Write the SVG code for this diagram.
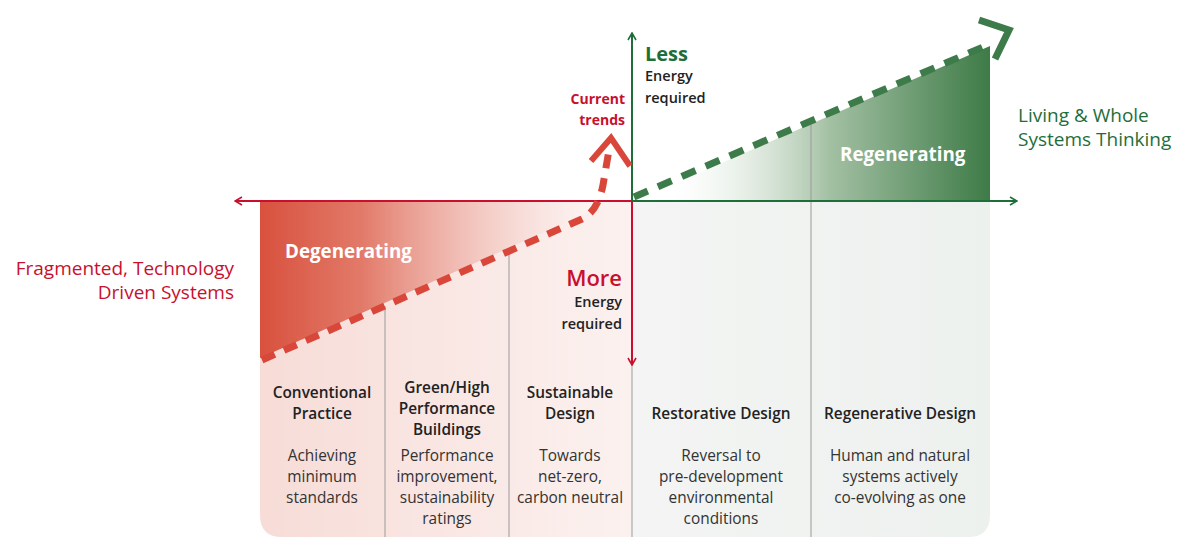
<svg xmlns="http://www.w3.org/2000/svg" width="1179" height="539" viewBox="0 0 1179 539">
<defs>
  <linearGradient id="gLeft" x1="0" y1="0" x2="1" y2="0">
    <stop offset="0" stop-color="#f7dcd7"/>
    <stop offset="1" stop-color="#fbf1ef"/>
  </linearGradient>
  <linearGradient id="gRight" x1="0" y1="0" x2="1" y2="0">
    <stop offset="0" stop-color="#f3f4f3"/>
    <stop offset="1" stop-color="#edf1ee"/>
  </linearGradient>
  <linearGradient id="gRed" x1="260" y1="0" x2="600" y2="0" gradientUnits="userSpaceOnUse">
    <stop offset="0" stop-color="#d8513e"/>
    <stop offset="0.3" stop-color="#e27a69"/>
    <stop offset="1" stop-color="#ffffff" stop-opacity="0.4"/>
  </linearGradient>
  <linearGradient id="gGreen" x1="670" y1="0" x2="990" y2="0" gradientUnits="userSpaceOnUse">
    <stop offset="0" stop-color="#ffffff" stop-opacity="0.2"/>
    <stop offset="0.5" stop-color="#a3c0a3"/>
    <stop offset="1" stop-color="#3e7b47"/>
  </linearGradient>
  <marker id="arrGreen" viewBox="0 0 10 10" refX="9" refY="5" markerWidth="10" markerHeight="10" markerUnits="userSpaceOnUse" orient="auto">
    <path d="M2,1 L9,5 L2,9" fill="none" stroke="#1e6e3a" stroke-width="1.6"/>
  </marker>
  <marker id="arrRed" viewBox="0 0 10 10" refX="9" refY="5" markerWidth="10" markerHeight="10" markerUnits="userSpaceOnUse" orient="auto">
    <path d="M2,1 L9,5 L2,9" fill="none" stroke="#c8102e" stroke-width="1.6"/>
  </marker>
</defs>
<style>
  text { font-family: "Open Sans", "Liberation Sans", sans-serif; }
  .t { font-size: 15.4px; fill: #222; text-anchor: middle; font-weight: 600; }
  .d { font-size: 15.4px; fill: #333; text-anchor: middle; }
  .div { stroke: #9a9a9a; stroke-width: 1; }
  .lab { font-size: 14.5px; fill: #222; font-weight: 600; }
  .side { font-size: 19px; }
</style>

<g id="panel">
  <path d="M260,201 H632 V537 H282 Q260,537 260,515 Z" fill="url(#gLeft)"/>
  <path d="M632,201 H990 V515 Q990,537 968,537 H632 Z" fill="url(#gRight)"/>
</g>

<g id="degenerating">
  <polygon points="260,201 602,201 588,213 260,358" fill="url(#gRed)"/>
  <text x="285" y="258" font-size="18.8" font-weight="700" fill="#ffffff">Degenerating</text>
</g>

<g id="regenerating">
  <polygon points="634,201 990,46 990,201" fill="url(#gGreen)"/>
  <text x="840" y="161" font-size="18.8" font-weight="700" fill="#ffffff">Regenerating</text>
</g>

<g id="dividers">
  <line class="div" x1="385" y1="306" x2="385" y2="537"/>
  <line class="div" x1="509" y1="252" x2="509" y2="537"/>
  <line class="div" x1="632" y1="365" x2="632" y2="537"/>
  <line class="div" x1="811" y1="125" x2="811" y2="537"/>
</g>

<g id="connectors">
  <line x1="632" y1="201" x2="235" y2="201" stroke="#c8102e" stroke-width="2" marker-end="url(#arrRed)"/>
  <line x1="632" y1="201" x2="1017" y2="201" stroke="#1e6e3a" stroke-width="2" marker-end="url(#arrGreen)"/>
  <line x1="632" y1="201" x2="632" y2="33" stroke="#1e6e3a" stroke-width="2" marker-end="url(#arrGreen)"/>
  <line x1="632" y1="201" x2="632" y2="365" stroke="#c8102e" stroke-width="2" marker-end="url(#arrRed)"/>
  <path d="M262,360 L582,219 Q598,211 603,185 L609,150" fill="none" stroke="#d9473a" stroke-width="7" stroke-dasharray="14,10"/>
  <path d="M591,161 L611,138 L630,166" fill="none" stroke="#d9473a" stroke-width="6"/>
  <line x1="634" y1="197" x2="990" y2="44" stroke="#3e7b4a" stroke-width="7" stroke-dasharray="15,11"/>
  <path d="M979,20 L1009,30 L995,59" fill="none" stroke="#3e7b4a" stroke-width="7"/>
</g>

<g id="labels">
  <text x="645" y="61" font-size="20" font-weight="700" fill="#1e6e3a">Less</text>
  <text class="lab" x="645" y="81">Energy</text>
  <text class="lab" x="645" y="103">required</text>
  <text x="625" y="104" font-size="14" font-weight="700" fill="#c8102e" text-anchor="end">Current</text>
  <text x="625" y="125" font-size="14" font-weight="700" fill="#c8102e" text-anchor="end">trends</text>
  <text x="622" y="286" font-size="22" font-weight="600" fill="#c8102e" text-anchor="end">More</text>
  <text class="lab" x="622" y="307" text-anchor="end">Energy</text>
  <text class="lab" x="622" y="329" text-anchor="end">required</text>
  <text class="side" x="234" y="275" fill="#c8102e" text-anchor="end">Fragmented, Technology</text>
  <text class="side" x="234" y="299" fill="#c8102e" text-anchor="end">Driven Systems</text>
  <text class="side" x="1018" y="122" fill="#1e6e3a">Living &amp; Whole</text>
  <text class="side" x="1018" y="146" fill="#1e6e3a">Systems Thinking</text>
</g>

<g id="col1">
  <text class="t" x="322" y="398">Conventional</text>
  <text class="t" x="322" y="419">Practice</text>
  <text class="d" x="322" y="461">Achieving</text>
  <text class="d" x="322" y="482">minimum</text>
  <text class="d" x="322" y="503">standards</text>
</g>
<g id="col2">
  <text class="t" x="447" y="393">Green/High</text>
  <text class="t" x="447" y="414">Performance</text>
  <text class="t" x="447" y="435">Buildings</text>
  <text class="d" x="447" y="461">Performance</text>
  <text class="d" x="447" y="482">improvement,</text>
  <text class="d" x="447" y="503">sustainability</text>
  <text class="d" x="447" y="524">ratings</text>
</g>
<g id="col3">
  <text class="t" x="570" y="398">Sustainable</text>
  <text class="t" x="570" y="419">Design</text>
  <text class="d" x="570" y="461">Towards</text>
  <text class="d" x="570" y="482">net-zero,</text>
  <text class="d" x="570" y="503">carbon neutral</text>
</g>
<g id="col4">
  <text class="t" x="721" y="419">Restorative Design</text>
  <text class="d" x="721" y="461">Reversal to</text>
  <text class="d" x="721" y="482">pre-development</text>
  <text class="d" x="721" y="503">environmental</text>
  <text class="d" x="721" y="524">conditions</text>
</g>
<g id="col5">
  <text class="t" x="900" y="419">Regenerative Design</text>
  <text class="d" x="900" y="461">Human and natural</text>
  <text class="d" x="900" y="482">systems actively</text>
  <text class="d" x="900" y="503">co-evolving as one</text>
</g>
</svg>
